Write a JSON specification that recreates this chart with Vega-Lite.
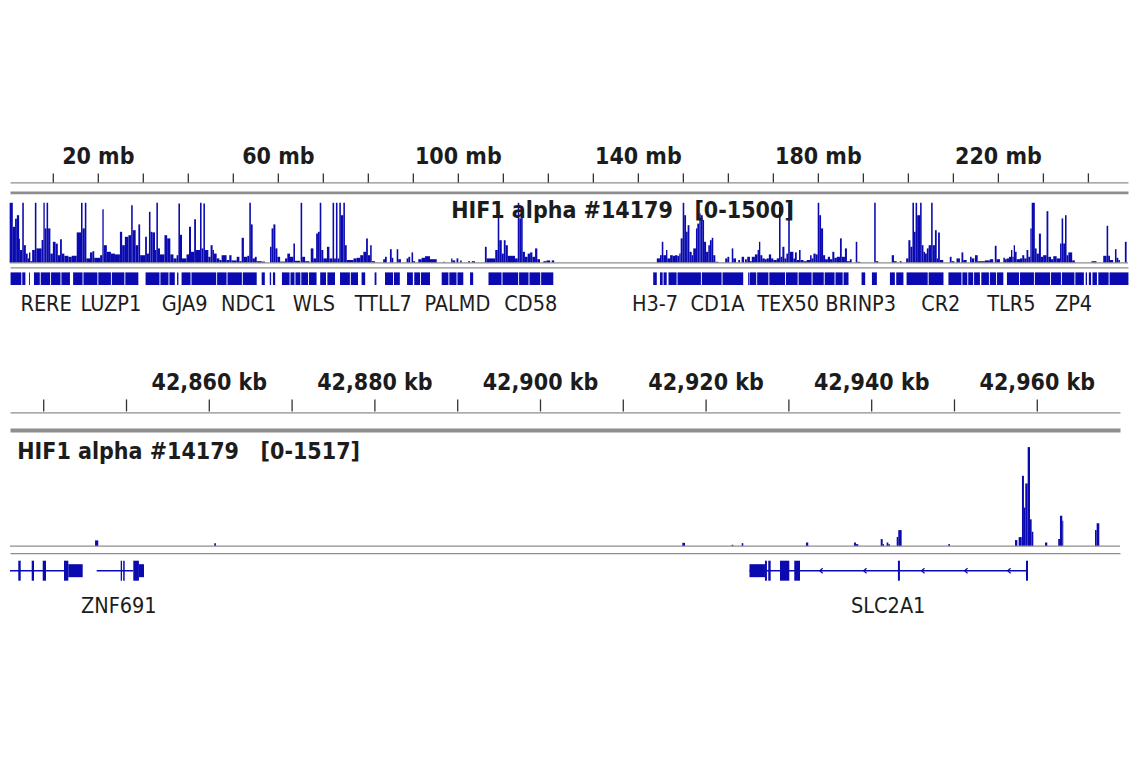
{
  "$schema": "https://vega.github.io/schema/vega-lite/v6.json",
  "background": "white",
  "padding": {"left": 4, "top": 146.4, "right": 5, "bottom": 5},
  "spacing": 0,
  "bounds": "flush",
  "resolve": {"scale": {"x": "independent", "y": "independent"}, "axis": {"x": "independent"}},
  "config": {
    "font": "Noto Sans Condensed, Liberation Sans Narrow, DejaVu Sans Condensed, Roboto, sans-serif",
    "view": {"stroke": null},
    "axis": {"grid": false, "ticks": false, "labels": false, "title": null, "domainColor": "#8e8e8e"}
  },
  "datasets": {
    "ruler1": [
      {"mb": 10}, {"mb": 20, "label": "20 mb"}, {"mb": 30}, {"mb": 40}, {"mb": 50}, {"mb": 60, "label": "60 mb"},
      {"mb": 70}, {"mb": 80}, {"mb": 90}, {"mb": 100, "label": "100 mb"}, {"mb": 110}, {"mb": 120},
      {"mb": 130}, {"mb": 140, "label": "140 mb"}, {"mb": 150}, {"mb": 160}, {"mb": 170}, {"mb": 180, "label": "180 mb"},
      {"mb": 190}, {"mb": 200}, {"mb": 210}, {"mb": 220, "label": "220 mb"}, {"mb": 230}, {"mb": 240}
    ],
    "ruler2": [
      {"kb": 42840}, {"kb": 42850}, {"kb": 42860, "label": "42,860 kb"}, {"kb": 42870}, {"kb": 42880, "label": "42,880 kb"},
      {"kb": 42890}, {"kb": 42900, "label": "42,900 kb"}, {"kb": 42910}, {"kb": 42920, "label": "42,920 kb"},
      {"kb": 42930}, {"kb": 42940, "label": "42,940 kb"}, {"kb": 42950}, {"kb": 42960, "label": "42,960 kb"}
    ],
    "cov1": [
      {"s":0.3,"e":1.0,"v":1500},{"s":1.0,"e":1.5,"v":900},{"s":1.5,"e":1.9,"v":1100},{"s":1.9,"e":2.4,"v":1190},{"s":2.4,"e":2.6,"v":600},
      {"s":2.6,"e":3.1,"v":320},{"s":3.1,"e":3.45,"v":1500},{"s":3.45,"e":3.9,"v":440},{"s":3.9,"e":4.3,"v":230},{"s":4.3,"e":4.6,"v":110},
      {"s":4.6,"e":4.9,"v":260},{"s":4.9,"e":5.3,"v":40},{"s":5.3,"e":5.9,"v":320},{"s":5.9,"e":6.25,"v":1500},{"s":6.25,"e":7.4,"v":360},
      {"s":7.4,"e":7.8,"v":570},{"s":7.8,"e":8.1,"v":1500},{"s":8.1,"e":8.5,"v":860},{"s":8.5,"e":8.85,"v":1500},{"s":8.85,"e":9.35,"v":860},
      {"s":9.35,"e":9.9,"v":230},{"s":9.9,"e":10.5,"v":525},{"s":10.5,"e":11.0,"v":480},{"s":11.0,"e":11.5,"v":190},{"s":11.5,"e":11.9,"v":590},
      {"s":11.9,"e":12.45,"v":230},{"s":12.45,"e":13.35,"v":175},{"s":13.35,"e":14.1,"v":150},{"s":14.1,"e":15.2,"v":175},{"s":15.2,"e":16.15,"v":760},
      {"s":16.15,"e":16.5,"v":1500},{"s":16.5,"e":17.0,"v":860},{"s":17.0,"e":17.35,"v":1500},{"s":17.35,"e":18.15,"v":110},{"s":18.15,"e":18.7,"v":260},
      {"s":18.7,"e":19.1,"v":290},{"s":19.1,"e":20.4,"v":125},{"s":20.4,"e":20.9,"v":190},{"s":20.9,"e":21.2,"v":1340},{"s":21.2,"e":21.9,"v":440},
      {"s":21.9,"e":22.8,"v":275},{"s":22.8,"e":23.7,"v":230},{"s":23.7,"e":24.8,"v":210},{"s":24.8,"e":25.3,"v":775},{"s":25.3,"e":25.9,"v":440},
      {"s":25.9,"e":26.7,"v":650},{"s":26.7,"e":27.3,"v":690},{"s":27.3,"e":27.65,"v":1440},{"s":27.65,"e":28.3,"v":815},{"s":28.3,"e":28.9,"v":440},
      {"s":28.9,"e":29.3,"v":960},{"s":29.3,"e":30.4,"v":190},{"s":30.4,"e":30.8,"v":650},{"s":30.8,"e":31.25,"v":230},{"s":31.25,"e":31.6,"v":1275},
      {"s":31.6,"e":32.0,"v":775},{"s":32.0,"e":32.6,"v":760},{"s":32.6,"e":32.9,"v":320},{"s":32.9,"e":33.25,"v":1500},{"s":33.25,"e":33.7,"v":360},
      {"s":33.7,"e":34.7,"v":210},{"s":34.7,"e":35.3,"v":690},{"s":35.3,"e":36.0,"v":610},{"s":36.0,"e":36.7,"v":210},{"s":36.7,"e":37.4,"v":110},
      {"s":37.4,"e":37.8,"v":190},{"s":37.8,"e":38.15,"v":1480},{"s":38.15,"e":38.6,"v":700},{"s":38.6,"e":39.6,"v":110},{"s":39.6,"e":40.15,"v":210},
      {"s":40.15,"e":40.6,"v":900},{"s":40.6,"e":41.3,"v":275},{"s":41.3,"e":41.7,"v":1090},{"s":41.7,"e":42.6,"v":320},{"s":42.6,"e":42.95,"v":1500},
      {"s":42.95,"e":43.35,"v":360},{"s":43.35,"e":43.7,"v":1480},{"s":43.7,"e":44.45,"v":320},{"s":44.45,"e":44.95,"v":150},{"s":44.95,"e":45.4,"v":440},
      {"s":45.4,"e":45.7,"v":320},{"s":45.7,"e":46.3,"v":230},{"s":46.3,"e":46.9,"v":110},{"s":46.9,"e":47.4,"v":70},{"s":47.4,"e":48.5,"v":190},
      {"s":48.5,"e":49.1,"v":70},{"s":49.1,"e":49.6,"v":190},{"s":49.6,"e":50.75,"v":60},{"s":50.75,"e":51.35,"v":150},{"s":51.35,"e":51.85,"v":40},
      {"s":51.85,"e":52.35,"v":625},{"s":52.35,"e":53.1,"v":150},{"s":53.1,"e":53.55,"v":175},{"s":53.55,"e":53.9,"v":1500},{"s":53.9,"e":54.3,"v":960},
      {"s":54.3,"e":54.8,"v":110},{"s":54.8,"e":55.2,"v":150},{"s":55.2,"e":56.3,"v":40},{"s":56.3,"e":57.05,"v":30},{"s":58.15,"e":58.5,"v":400},
      {"s":58.5,"e":58.9,"v":860},{"s":58.9,"e":59.35,"v":960},{"s":59.35,"e":59.8,"v":360},{"s":59.8,"e":60.4,"v":150},{"s":60.4,"e":61.5,"v":30},
      {"s":61.5,"e":62.0,"v":110},{"s":62.0,"e":62.6,"v":230},{"s":62.6,"e":63.35,"v":150},{"s":63.35,"e":63.7,"v":480},{"s":63.7,"e":64.8,"v":50},
      {"s":64.95,"e":65.3,"v":1500},{"s":65.3,"e":65.95,"v":150},{"s":65.95,"e":66.9,"v":40},{"s":67.2,"e":67.8,"v":360},{"s":67.8,"e":68.4,"v":110},
      {"s":68.4,"e":68.8,"v":730},{"s":68.8,"e":69.2,"v":775},{"s":69.2,"e":69.55,"v":1500},{"s":69.55,"e":70.0,"v":320},{"s":70.0,"e":70.8,"v":110},
      {"s":70.8,"e":71.35,"v":400},{"s":71.35,"e":72.05,"v":110},{"s":72.05,"e":72.4,"v":1500},{"s":72.4,"e":72.8,"v":110},{"s":72.8,"e":73.15,"v":1500},
      {"s":73.15,"e":73.55,"v":110},{"s":73.55,"e":73.9,"v":1500},{"s":73.9,"e":74.45,"v":1190},{"s":74.45,"e":74.8,"v":1500},{"s":74.8,"e":75.2,"v":440},
      {"s":75.2,"e":76.7,"v":70},{"s":76.7,"e":77.4,"v":110},{"s":77.4,"e":78.2,"v":125},{"s":78.2,"e":78.9,"v":190},{"s":78.9,"e":79.5,"v":275},
      {"s":79.5,"e":79.9,"v":610},{"s":79.9,"e":80.4,"v":190},{"s":80.4,"e":80.75,"v":440},{"s":80.75,"e":81.5,"v":40},
      {"s":83.3,"e":83.7,"v":90},{"s":83.7,"e":84.1,"v":150},{"s":84.8,"e":85.2,"v":340},{"s":85.2,"e":85.55,"v":125},{"s":86.3,"e":86.65,"v":340},
      {"s":86.65,"e":87.25,"v":90},{"s":88.5,"e":88.9,"v":110},{"s":88.9,"e":89.3,"v":150},{"s":89.6,"e":89.95,"v":260},{"s":89.95,"e":90.4,"v":40},
      {"s":91.1,"e":91.85,"v":90},{"s":91.85,"e":92.6,"v":125},{"s":92.6,"e":93.7,"v":165},{"s":93.7,"e":95.2,"v":90},{"s":96.7,"e":97.0,"v":25},
      {"s":98.4,"e":98.7,"v":110},{"s":98.7,"e":99.3,"v":60},{"s":99.6,"e":100.0,"v":110},{"s":100.4,"e":100.75,"v":60},{"s":102.2,"e":102.6,"v":40},
      {"s":103.0,"e":103.7,"v":40},{"s":105.9,"e":106.3,"v":400},{"s":106.3,"e":108.2,"v":110},{"s":108.2,"e":108.75,"v":320},{"s":108.75,"e":109.1,"v":1260},
      {"s":109.1,"e":109.65,"v":565},{"s":109.65,"e":110.1,"v":230},{"s":110.1,"e":110.5,"v":565},{"s":110.5,"e":111.0,"v":440},{"s":111.0,"e":112.6,"v":175},
      {"s":112.6,"e":113.2,"v":110},{"s":113.2,"e":113.55,"v":1500},{"s":113.55,"e":113.95,"v":1110},{"s":113.95,"e":114.3,"v":1400},{"s":114.3,"e":114.8,"v":275},
      {"s":114.8,"e":115.4,"v":150},{"s":115.4,"e":115.95,"v":230},{"s":115.95,"e":116.45,"v":260},{"s":116.45,"e":117.05,"v":150},{"s":117.05,"e":117.55,"v":360},
      {"s":117.55,"e":118.15,"v":90},{"s":118.9,"e":119.6,"v":40},{"s":119.6,"e":120.4,"v":60},{"s":120.75,"e":121.3,"v":60},
      {"s":144.1,"e":144.8,"v":110},{"s":144.8,"e":145.2,"v":190},{"s":145.2,"e":145.55,"v":525},{"s":145.55,"e":146.15,"v":190},{"s":146.15,"e":146.45,"v":320},
      {"s":146.45,"e":147.05,"v":110},{"s":147.05,"e":147.65,"v":190},{"s":147.65,"e":148.15,"v":175},{"s":148.15,"e":148.65,"v":190},{"s":148.65,"e":149.1,"v":175},
      {"s":149.1,"e":149.4,"v":230},{"s":149.4,"e":149.85,"v":610},{"s":149.85,"e":150.2,"v":1500},{"s":150.2,"e":150.6,"v":1190},{"s":150.6,"e":150.95,"v":775},
      {"s":150.95,"e":151.35,"v":940},{"s":151.35,"e":151.85,"v":275},{"s":151.85,"e":152.2,"v":190},{"s":152.2,"e":152.8,"v":360},{"s":152.8,"e":153.1,"v":860},
      {"s":153.1,"e":153.55,"v":980},{"s":153.55,"e":153.85,"v":1230},{"s":153.85,"e":154.3,"v":1190},{"s":154.3,"e":154.6,"v":1070},{"s":154.6,"e":155.05,"v":525},
      {"s":155.05,"e":155.55,"v":275},{"s":155.55,"e":155.9,"v":440},{"s":155.9,"e":156.3,"v":565},{"s":156.3,"e":156.65,"v":625},{"s":156.65,"e":157.1,"v":190},
      {"s":157.1,"e":157.8,"v":25},{"s":159.3,"e":159.8,"v":110},{"s":159.8,"e":160.2,"v":150},{"s":160.75,"e":161.1,"v":360},{"s":161.1,"e":161.7,"v":110},
      {"s":162.2,"e":162.6,"v":70},{"s":162.95,"e":163.5,"v":150},{"s":163.7,"e":164.1,"v":90},{"s":164.2,"e":164.8,"v":150},
      {"s":164.8,"e":165.2,"v":40},{"s":165.2,"e":165.9,"v":150},{"s":165.9,"e":166.5,"v":210},{"s":166.5,"e":166.8,"v":320},{"s":166.8,"e":167.1,"v":525},
      {"s":167.1,"e":167.55,"v":190},{"s":167.55,"e":168.1,"v":110},{"s":168.1,"e":168.5,"v":90},{"s":168.5,"e":169.0,"v":110},{"s":169.0,"e":169.5,"v":210},
      {"s":169.5,"e":170.0,"v":110},{"s":170.0,"e":170.75,"v":70},{"s":170.75,"e":171.25,"v":110},{"s":171.25,"e":171.6,"v":1400},{"s":171.6,"e":172.0,"v":150},
      {"s":172.0,"e":172.45,"v":400},{"s":172.45,"e":172.9,"v":110},{"s":172.9,"e":173.3,"v":230},{"s":173.3,"e":173.65,"v":1500},{"s":173.65,"e":174.45,"v":275},
      {"s":174.45,"e":174.8,"v":110},{"s":174.8,"e":175.2,"v":260},{"s":175.2,"e":175.7,"v":70},{"s":175.7,"e":176.05,"v":320},{"s":176.05,"e":176.7,"v":70},
      {"s":176.7,"e":177.4,"v":40},{"s":177.4,"e":178.15,"v":70},{"s":178.15,"e":178.5,"v":190},{"s":178.5,"e":178.9,"v":110},{"s":178.9,"e":179.4,"v":230},
      {"s":179.4,"e":179.85,"v":210},{"s":179.85,"e":180.2,"v":1500},{"s":180.2,"e":180.6,"v":1190},{"s":180.6,"e":181.05,"v":860},{"s":181.05,"e":181.5,"v":190},
      {"s":181.5,"e":182.1,"v":90},{"s":182.1,"e":182.6,"v":150},{"s":182.6,"e":183.1,"v":90},{"s":183.1,"e":183.55,"v":275},{"s":183.55,"e":184.1,"v":125},
      {"s":184.1,"e":184.8,"v":150},{"s":184.8,"e":185.2,"v":610},{"s":185.2,"e":185.9,"v":150},{"s":185.9,"e":186.35,"v":360},{"s":186.35,"e":187.0,"v":40},
      {"s":187.0,"e":187.4,"v":90},{"s":188.3,"e":188.65,"v":525},{"s":188.65,"e":189.3,"v":25},{"s":192.4,"e":192.75,"v":1500},{"s":192.75,"e":193.3,"v":40},
      {"s":196.3,"e":196.8,"v":190},{"s":196.8,"e":197.4,"v":40},{"s":198.1,"e":198.5,"v":40},{"s":199.5,"e":200.0,"v":110},{"s":200.0,"e":200.45,"v":565},
      {"s":200.45,"e":200.9,"v":400},{"s":200.9,"e":201.25,"v":1500},{"s":201.25,"e":201.6,"v":775},{"s":201.6,"e":201.95,"v":1500},{"s":201.95,"e":202.6,"v":1190},
      {"s":202.6,"e":202.95,"v":1500},{"s":202.95,"e":203.35,"v":440},{"s":203.35,"e":203.7,"v":275},{"s":203.7,"e":204.1,"v":230},{"s":204.1,"e":204.5,"v":360},
      {"s":204.5,"e":205.05,"v":440},{"s":205.05,"e":205.4,"v":1500},{"s":205.4,"e":205.9,"v":440},
      {"s":205.9,"e":206.3,"v":815},{"s":206.3,"e":206.6,"v":110},{"s":206.6,"e":207.0,"v":760},{"s":207.0,"e":207.75,"v":70},{"s":209.2,"e":209.6,"v":150},
      {"s":209.6,"e":210.2,"v":40},{"s":210.7,"e":211.45,"v":110},{"s":211.8,"e":212.2,"v":260},{"s":212.2,"e":212.95,"v":70},{"s":213.7,"e":214.05,"v":150},
      {"s":214.05,"e":214.65,"v":110},{"s":214.8,"e":215.4,"v":190},{"s":215.4,"e":217.0,"v":40},{"s":217.0,"e":218.1,"v":60},{"s":218.1,"e":218.85,"v":90},
      {"s":219.2,"e":219.6,"v":425},{"s":219.6,"e":220.35,"v":90},{"s":221.1,"e":221.45,"v":125},{"s":221.45,"e":221.85,"v":90},{"s":221.85,"e":222.35,"v":110},
      {"s":222.35,"e":222.8,"v":150},{"s":222.8,"e":223.1,"v":320},{"s":223.1,"e":223.4,"v":150},{"s":223.4,"e":223.7,"v":440},{"s":223.7,"e":224.05,"v":275},
      {"s":224.05,"e":224.8,"v":90},{"s":224.8,"e":225.3,"v":110},{"s":225.3,"e":225.75,"v":190},{"s":225.75,"e":226.25,"v":110},{"s":226.25,"e":226.65,"v":320},
      {"s":226.65,"e":227.1,"v":150},{"s":227.1,"e":227.4,"v":860},{"s":227.4,"e":228.1,"v":1500},{"s":228.1,"e":228.5,"v":360},{"s":228.5,"e":229.0,"v":230},
      {"s":229.0,"e":229.45,"v":730},{"s":229.45,"e":229.95,"v":150},{"s":229.95,"e":230.7,"v":190},{"s":230.7,"e":231.1,"v":1290},{"s":231.1,"e":231.7,"v":150},
      {"s":231.7,"e":232.2,"v":90},{"s":232.2,"e":232.95,"v":165},{"s":232.95,"e":233.7,"v":110},{"s":233.7,"e":234.05,"v":480},{"s":234.05,"e":234.4,"v":1110},
      {"s":234.4,"e":234.8,"v":480},{"s":234.8,"e":235.15,"v":1190},{"s":235.15,"e":235.55,"v":190},{"s":235.55,"e":236.4,"v":260},{"s":236.4,"e":237.0,"v":60},
      {"s":240.7,"e":241.8,"v":40},{"s":243.3,"e":244.05,"v":175},{"s":244.05,"e":244.4,"v":925},{"s":244.4,"e":244.8,"v":175},{"s":244.8,"e":245.5,"v":70},
      {"s":245.9,"e":246.25,"v":340},{"s":246.25,"e":246.65,"v":125},{"s":246.65,"e":247.0,"v":70},{"s":248.1,"e":248.5,"v":525}
    ],
    "genes1": [
      {"s":0.5,"e":2.9},{"s":3.1,"e":3.8},{"s":4.6,"e":4.8},{"s":5.7,"e":7.0},{"s":7.2,"e":9.3},{"s":9.5,"e":11.6},{"s":11.8,"e":13.7},
      {"s":14.4,"e":16.5},{"s":16.7,"e":19.8},{"s":20.0,"e":22.8},{"s":23.0,"e":25.8},{"s":26.0,"e":28.9},{"s":30.5,"e":33.6},{"s":33.8,"e":35.6},
      {"s":35.8,"e":37.0},{"s":37.5,"e":37.8},{"s":38.5,"e":40.5},{"s":40.7,"e":46.2},{"s":46.4,"e":48.5},{"s":48.7,"e":51.9},{"s":52.1,"e":55.2},
      {"s":56.3,"e":57.0},{"s":58.1,"e":58.4},{"s":58.8,"e":59.3},{"s":60.8,"e":62.5},{"s":62.7,"e":63.6},{"s":63.8,"e":64.9},{"s":65.1,"e":66.6},
      {"s":66.8,"e":68.5},{"s":69.3,"e":70.6},{"s":70.9,"e":72.6},{"s":73.7,"e":75.9},{"s":76.1,"e":77.7},{"s":78.5,"e":79.3},{"s":81.4,"e":81.8},
      {"s":83.7,"e":85.5},{"s":85.7,"e":87.0},{"s":88.6,"e":89.9},{"s":90.2,"e":91.5},{"s":91.7,"e":93.7},{"s":96.3,"e":97.8},{"s":98.0,"e":99.6},
      {"s":99.8,"e":101.1},{"s":102.6,"e":103.3},{"s":106.7,"e":109.6},{"s":109.8,"e":113.3},{"s":113.5,"e":115.6},{"s":115.8,"e":118.2},{"s":118.4,"e":121.1},
      {"s":143.3,"e":144.1},{"s":144.8,"e":145.4},{"s":145.6,"e":146.3},{"s":146.7,"e":148.5},{"s":148.7,"e":153.9},{"s":154.1,"e":158.5},{"s":158.7,"e":163.3},
      {"s":164.4,"e":164.7},{"s":164.8,"e":166.2},{"s":166.4,"e":168.9},{"s":169.1,"e":172.6},{"s":172.8,"e":175.4},{"s":175.6,"e":178.5},{"s":178.7,"e":181.2},
      {"s":181.4,"e":183.6},{"s":183.8,"e":185.4},{"s":185.6,"e":186.7},{"s":189.6,"e":190.4},{"s":191.9,"e":193.0},{"s":195.9,"e":197.0},{"s":197.3,"e":198.9},
      {"s":199.6,"e":204.3},{"s":204.5,"e":207.8},{"s":208.9,"e":211.8},{"s":212.0,"e":213.1},{"s":213.3,"e":214.4},{"s":214.6,"e":215.9},{"s":216.2,"e":217.9},
      {"s":218.1,"e":219.5},{"s":219.7,"e":221.1},{"s":221.9,"e":224.6},{"s":224.8,"e":227.9},{"s":228.1,"e":231.5},{"s":231.7,"e":233.9},{"s":234.1,"e":236.9},
      {"s":237.1,"e":239.0},{"s":239.4,"e":239.7},{"s":240.1,"e":240.6},{"s":240.9,"e":241.9},{"s":242.2,"e":244.5},{"s":244.7,"e":248.9}
    ],
    "names1": [
      {"gene":"RERE","mb":8.4},{"gene":"LUZP1","mb":22.8},{"gene":"GJA9","mb":39.2},{"gene":"NDC1","mb":53.4},{"gene":"WLS","mb":67.9},
      {"gene":"TTLL7","mb":83.3},{"gene":"PALMD","mb":99.8},{"gene":"CD58","mb":116.1},{"gene":"H3-7","mb":143.7},{"gene":"CD1A","mb":157.6},
      {"gene":"TEX50","mb":173.3},{"gene":"BRINP3","mb":189.4},{"gene":"CR2","mb":207.2},{"gene":"TLR5","mb":222.9},{"gene":"ZP4","mb":236.7}
    ],
    "cov2": [
      {"s":42846.2,"e":42846.59,"v":87},{"s":42860.6,"e":42860.8,"v":45},{"s":42917.13,"e":42917.45,"v":50},{"s":42923.09,"e":42923.28,"v":20},
      {"s":42924.3,"e":42924.49,"v":45},{"s":42932.06,"e":42932.34,"v":55},{"s":42937.86,"e":42938.1,"v":55},{"s":42938.1,"e":42938.38,"v":30},
      {"s":42941.09,"e":42941.33,"v":107},{"s":42941.33,"e":42941.49,"v":30},{"s":42941.81,"e":42942.01,"v":55},{"s":42942.01,"e":42942.21,"v":30},
      {"s":42943.02,"e":42943.21,"v":140},{"s":42943.21,"e":42943.62,"v":245},{"s":42949.25,"e":42949.46,"v":30},{"s":42957.31,"e":42957.59,"v":92},
      {"s":42957.75,"e":42958.12,"v":138},{"s":42958.15,"e":42958.39,"v":1077},{"s":42958.39,"e":42958.55,"v":590},{"s":42958.55,"e":42958.84,"v":960},
      {"s":42958.84,"e":42959.12,"v":1517},{"s":42959.12,"e":42959.32,"v":410},{"s":42959.32,"e":42959.52,"v":220},{"s":42960.93,"e":42961.21,"v":55},
      {"s":42962.53,"e":42962.74,"v":107},{"s":42962.74,"e":42963.02,"v":465},{"s":42963.02,"e":42963.14,"v":390},{"s":42966.97,"e":42967.17,"v":245},
      {"s":42967.17,"e":42967.49,"v":350}
    ],
    "genes2": [
      {"s":42835.93,"e":42842.57,"part":"intron"},{"s":42836.93,"e":42837.22,"part":"exon"},{"s":42838.55,"e":42838.83,"part":"exon"},
      {"s":42839.88,"e":42840.28,"part":"exon"},{"s":42842.45,"e":42842.97,"part":"exon"},{"s":42842.97,"e":42844.71,"part":"utr"},
      {"s":42846.4,"e":42850.82,"part":"intron"},{"s":42849.3,"e":42849.46,"part":"exon"},{"s":42849.6,"e":42849.78,"part":"exon"},
      {"s":42850.82,"e":42851.5,"part":"exon"},{"s":42851.5,"e":42852.11,"part":"utr"},
      {"s":42925.24,"e":42958.84,"part":"intron"},{"s":42925.24,"e":42927.11,"part":"utr"},{"s":42927.11,"e":42927.35,"part":"exon"},
      {"s":42927.51,"e":42927.8,"part":"exon"},{"s":42928.93,"e":42930.05,"part":"exon"},{"s":42930.65,"e":42931.34,"part":"exon"},
      {"s":42943.17,"e":42943.41,"part":"exon"},{"s":42958.64,"e":42958.88,"part":"exon"}
    ],
    "strand2": [{"kb":42933.9},{"kb":42939.2},{"kb":42946.2},{"kb":42951.4},{"kb":42956.6}],
    "names2": [{"gene":"ZNF691","kb":42849.07},{"gene":"SLC2A1","kb":42942.0}]
  },
  "vconcat": [
    {
      "width": 1118, "height": 9,
      "data": {"name": "ruler1"},
      "layer": [
        {
          "mark": {"type": "rule", "color": "#333333", "strokeWidth": 1.3},
          "encoding": {"x": {"field": "mb", "type": "quantitative", "scale": {"domain": [0.38, 248.8], "nice": false, "zero": false}, "axis": {"orient": "bottom", "domainWidth": 1.2}}}
        },
        {
          "transform": [{"filter": "datum.label != null"}],
          "mark": {"type": "text", "fontSize": 23, "fontWeight": "bold", "baseline": "alphabetic", "dy": -13.5, "color": "#1c1c1c"},
          "encoding": {"x": {"field": "mb", "type": "quantitative", "scale": {"domain": [0.38, 248.8], "nice": false, "zero": false}, "axis": {"orient": "bottom", "domainWidth": 1.2}}, "text": {"field": "label"}}
        }
      ]
    },
    {
      "width": 1118, "height": 80.4,
      "title": {"text": "HIF1 alpha #14179\u00a0\u00a0\u00a0[0-1500]", "orient": "top", "anchor": "middle", "frame": "group", "offset": 0, "dx": 53.5, "dy": 58.4, "baseline": "alphabetic", "fontSize": 23, "fontWeight": "bold", "color": "#1c1c1c"},
      "layer": [
        {
          "data": {"name": "cov1"},
          "mark": {"type": "rect", "color": "#0a0ab0"},
          "encoding": {
            "x": {"field": "s", "type": "quantitative", "scale": {"domain": [0.38, 248.8], "nice": false, "zero": false}, "axis": {"orient": "top", "domainWidth": 2.6, "offset": -10}},
            "x2": {"field": "e"},
            "y": {"field": "v", "type": "quantitative", "scale": {"domain": [0, 2010], "nice": false}, "axis": null},
            "y2": {"datum": 0}
          }
        },
        {
          "data": {"values": [{"v": 0}]},
          "mark": {"type": "rule", "color": "#8e8e8e", "strokeWidth": 1.3},
          "encoding": {"y": {"field": "v", "type": "quantitative", "axis": null}}
        }
      ]
    },
    {
      "width": 1118, "height": 30.6,
      "layer": [
        {
          "data": {"name": "genes1"},
          "mark": {"type": "rule", "color": "#0a0ab0", "strokeWidth": 12.6},
          "encoding": {
            "x": {"field": "s", "type": "quantitative", "scale": {"domain": [0.38, 248.8], "nice": false, "zero": false}, "axis": {"orient": "top", "domainWidth": 1.3, "offset": -4}},
            "x2": {"field": "e"}
          }
        },
        {
          "data": {"name": "names1"},
          "mark": {"type": "text", "fontSize": 21.5, "baseline": "alphabetic", "dy": 32, "color": "#1c1c1c"},
          "encoding": {
            "x": {"field": "mb", "type": "quantitative", "scale": {"domain": [0.38, 248.8], "nice": false, "zero": false}, "axis": {"orient": "top", "domainWidth": 1.3, "offset": -4}},
            "text": {"field": "gene"}
          }
        }
      ]
    },
    {
      "width": 1110, "height": 105,
      "data": {"name": "ruler2"},
      "transform": [{"filter": "datum.label != null"}],
      "mark": {"type": "text", "fontSize": 23, "fontWeight": "bold", "baseline": "alphabetic", "dy": 43.2, "color": "#1c1c1c"},
      "encoding": {
        "x": {"field": "kb", "type": "quantitative", "scale": {"domain": [42835.93, 42969.99], "nice": false, "zero": false}, "axis": null},
        "text": {"field": "label"}
      }
    },
    {
      "width": 1110, "height": 12,
      "data": {"name": "ruler2"},
      "mark": {"type": "rule", "color": "#333333", "strokeWidth": 1.3},
      "encoding": {"x": {"field": "kb", "type": "quantitative", "scale": {"domain": [42835.93, 42969.99], "nice": false, "zero": false}, "axis": {"orient": "bottom", "domainWidth": 1.2, "offset": 1}}}
    },
    {
      "width": 1110, "height": 134.7,
      "title": {"text": "HIF1 alpha #14179\u00a0\u00a0\u00a0[0-1517]", "orient": "top", "anchor": "start", "frame": "group", "offset": 0, "dx": 7.3, "dy": 71, "baseline": "alphabetic", "fontSize": 23, "fontWeight": "bold", "color": "#1c1c1c"},
      "layer": [
        {
          "data": {"name": "cov2"},
          "mark": {"type": "rect", "color": "#0a0ab0"},
          "encoding": {
            "x": {"field": "s", "type": "quantitative", "scale": {"domain": [42835.93, 42969.99], "nice": false, "zero": false}, "axis": {"orient": "top", "domainWidth": 4, "offset": -18.7}},
            "x2": {"field": "e"},
            "y": {"field": "v", "type": "quantitative", "scale": {"domain": [0, 2064], "nice": false}, "axis": null},
            "y2": {"datum": 0}
          }
        },
        {
          "data": {"values": [{"v": 0}]},
          "mark": {"type": "rule", "color": "#8e8e8e", "strokeWidth": 1.3},
          "encoding": {"y": {"field": "v", "type": "quantitative", "axis": null}}
        }
      ]
    },
    {
      "width": 1110, "height": 48.6,
      "layer": [
        {
          "data": {"name": "genes2"},
          "transform": [{"filter": "datum.part == 'intron'"}],
          "mark": {"type": "rule", "color": "#0a0ab0", "strokeWidth": 1.5},
          "encoding": {
            "x": {"field": "s", "type": "quantitative", "scale": {"domain": [42835.93, 42969.99], "nice": false, "zero": false}, "axis": {"orient": "top", "domainWidth": 1.3, "offset": -6.7}},
            "x2": {"field": "e"}
          }
        },
        {
          "data": {"name": "genes2"},
          "transform": [{"filter": "datum.part == 'utr'"}],
          "mark": {"type": "rule", "color": "#0a0ab0", "strokeWidth": 13},
          "encoding": {
            "x": {"field": "s", "type": "quantitative", "scale": {"domain": [42835.93, 42969.99], "nice": false, "zero": false}, "axis": {"orient": "top", "domainWidth": 1.3, "offset": -6.7}},
            "x2": {"field": "e"}
          }
        },
        {
          "data": {"name": "genes2"},
          "transform": [{"filter": "datum.part == 'exon'"}],
          "mark": {"type": "rule", "color": "#0a0ab0", "strokeWidth": 20},
          "encoding": {
            "x": {"field": "s", "type": "quantitative", "scale": {"domain": [42835.93, 42969.99], "nice": false, "zero": false}, "axis": {"orient": "top", "domainWidth": 1.3, "offset": -6.7}},
            "x2": {"field": "e"}
          }
        },
        {
          "data": {"name": "strand2"},
          "mark": {"type": "point", "shape": "M0.6,-1L-0.6,0L0.6,1", "size": 25, "filled": false, "color": "#0a0ab0", "strokeWidth": 1.2, "opacity": 1},
          "encoding": {
            "x": {"field": "kb", "type": "quantitative", "scale": {"domain": [42835.93, 42969.99], "nice": false, "zero": false}, "axis": {"orient": "top", "domainWidth": 1.3, "offset": -6.7}}
          }
        },
        {
          "data": {"name": "names2"},
          "mark": {"type": "text", "fontSize": 21.5, "baseline": "alphabetic", "dy": 42.7, "color": "#1c1c1c"},
          "encoding": {
            "x": {"field": "kb", "type": "quantitative", "scale": {"domain": [42835.93, 42969.99], "nice": false, "zero": false}, "axis": {"orient": "top", "domainWidth": 1.3, "offset": -6.7}},
            "text": {"field": "gene"}
          }
        }
      ]
    }
  ]
}
